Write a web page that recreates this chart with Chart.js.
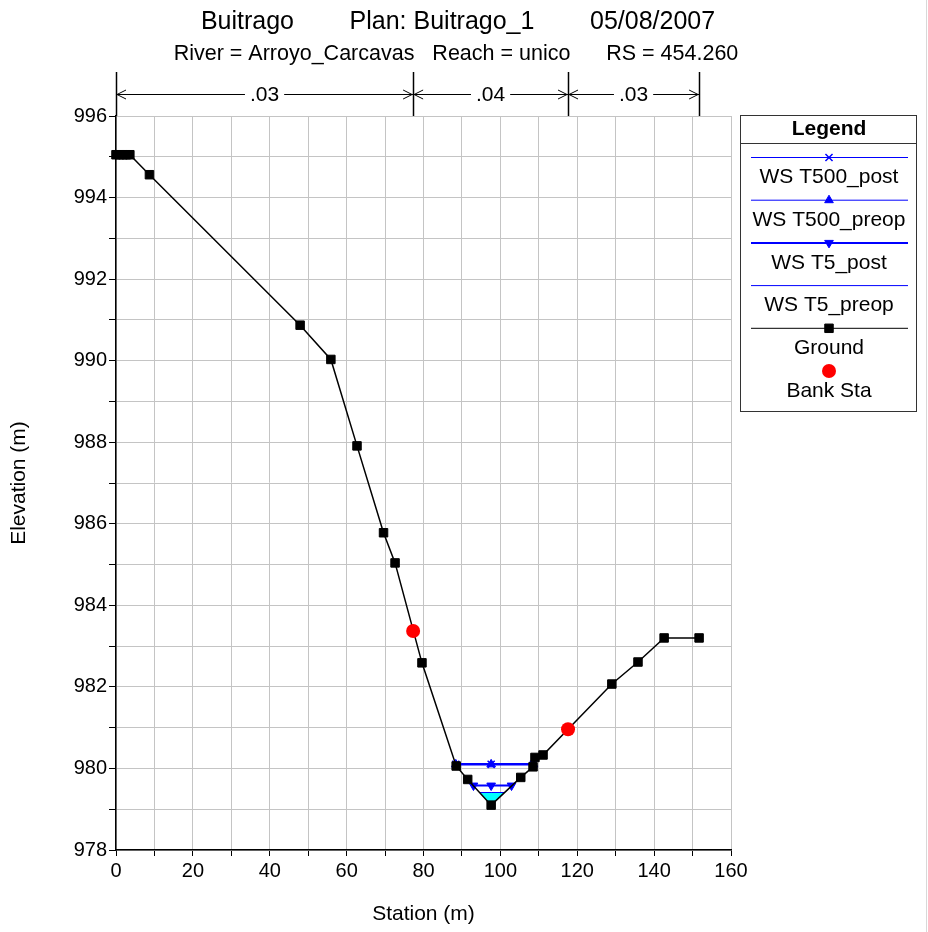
<!DOCTYPE html>
<html>
<head>
<meta charset="utf-8">
<script src="https://cdn.jsdelivr.net/npm/chart.js@4.4.1/dist/chart.umd.min.js"></script>
<style>
  html, body { margin: 0; padding: 0; background: #fff; }
</style>
</head>
<body>
<canvas id="chart" width="928" height="932"></canvas>
<script>
// ground profile (station m, elevation m)
const groundStation = [0, 0.9, 1.8, 2.7, 3.6, 8.7, 47.9, 55.9, 62.7, 69.6, 72.6, 79.6, 88.5, 91.5, 97.6, 105.3, 108.5, 109.0, 111.1, 129.0, 135.8, 142.6, 151.7];
const groundElev    = [995.05, 995.05, 995.05, 995.05, 995.05, 994.56, 990.87, 990.03, 987.91, 985.78, 985.04, 982.59, 980.06, 979.73, 979.10, 979.78, 980.04, 980.27, 980.33, 982.07, 982.61, 983.20, 983.20];

const bankStation = [77.3, 117.6];
const bankElev    = [983.37, 980.96];

// water surfaces
const wsT500Station = [88.4, 97.6, 108.6];
const wsT500PostElev  = [980.10, 980.10, 980.10];
const wsT500PreopElev = [980.10, 980.10, 980.10];
const wsT5PostStation = [93.0, 97.6, 102.9];
const wsT5PostElev    = [979.58, 979.58, 979.58];
const wsT5PreopStation = [94.5, 97.6, 101.1];
const wsT5PreopElev    = [979.41, 979.41, 979.41];
const wsT5PreopBedElev = [979.41, 979.10, 979.41];

// manning's n along the section
const nBreaks = [0, 77.3, 117.6, 151.7];
const nValues = ['.03', '.04', '.03'];

const titleText = 'Buitrago        Plan: Buitrago_1        05/08/2007';
const subtitleText = 'River = Arroyo_Carcavas   Reach = unico      RS = 454.260';

const legendOrder = ['WS T500_post', 'WS T500_preop', 'WS T5_post', 'WS T5_preop', 'Ground', 'Bank Sta'];

const FONT = "'Liberation Sans', Arial, sans-serif";
Chart.defaults.font.family = FONT;
Chart.defaults.color = '#000';

const pts = (xs, ys) => xs.map((x, i) => ({ x: x, y: ys[i] }));

const headerPlugin = {
  id: 'header',
  afterDraw(chart) {
    const ctx = chart.ctx;
    const xs = chart.scales.x;
    const top = chart.chartArea.top;
    ctx.save();
    ctx.fillStyle = '#000';
    ctx.textAlign = 'center';
    ctx.textBaseline = 'middle';
    ctx.font = '25px ' + FONT;
    ctx.fillText(titleText, 458, 22);
    ctx.font = '21.5px ' + FONT;
    ctx.fillText(subtitleText, 456, 54);

    // n value bars
    const yArr = 94;
    ctx.strokeStyle = '#000';
    ctx.lineWidth = 1.5;
    nBreaks.forEach(s => {
      const px = Math.round(xs.getPixelForValue(s)) + 0.5;
      ctx.beginPath();
      ctx.moveTo(px, 72);
      ctx.lineTo(px, top);
      ctx.stroke();
    });
    ctx.lineWidth = 1;
    ctx.font = '21px ' + FONT;
    nValues.forEach((v, i) => {
      const xl = xs.getPixelForValue(nBreaks[i]);
      const xr = xs.getPixelForValue(nBreaks[i + 1]);
      const mid = (xl + xr) / 2;
      const w = ctx.measureText(v).width;
      ctx.beginPath();
      ctx.moveTo(xl, yArr + 0.5);
      ctx.lineTo(mid - w / 2 - 5, yArr + 0.5);
      ctx.moveTo(mid + w / 2 + 5, yArr + 0.5);
      ctx.lineTo(xr, yArr + 0.5);
      // arrow heads
      ctx.moveTo(xl + 10, yArr - 4);
      ctx.lineTo(xl + 1, yArr + 0.5);
      ctx.lineTo(xl + 10, yArr + 5);
      ctx.moveTo(xr - 10, yArr - 4);
      ctx.lineTo(xr - 1, yArr + 0.5);
      ctx.lineTo(xr - 10, yArr + 5);
      ctx.stroke();
      ctx.fillText(v, mid, yArr + 1);
    });

    // legend box
    const bx = 740.5, by = 115.5, bw = 176, bh = 296;
    ctx.strokeStyle = '#333';
    ctx.lineWidth = 1;
    ctx.strokeRect(bx, by, bw, bh);
    ctx.beginPath();
    ctx.moveTo(bx, 143.5);
    ctx.lineTo(bx + bw, 143.5);
    ctx.stroke();
    ctx.font = 'bold 21px ' + FONT;
    ctx.fillText('Legend', 829, 129);

    ctx.font = '21px ' + FONT;
    legendOrder.forEach((label, i) => {
      const ds = chart.data.datasets.find(d => d.label === label);
      const ly = 157.5 + i * 42.7;
      if (ds.borderWidth > 0 && ds.showLine !== false) {
        ctx.strokeStyle = ds.borderColor;
        ctx.lineWidth = ds.legendLineWidth || ds.borderWidth;
        ctx.beginPath();
        ctx.moveTo(751, ly);
        ctx.lineTo(908, ly);
        ctx.stroke();
      }
      if (ds.pointRadius > 0) {
        ctx.fillStyle = ds.pointBackgroundColor;
        ctx.strokeStyle = ds.pointBorderColor;
        ctx.lineWidth = ds.pointBorderWidth;
        Chart.helpers.drawPoint(ctx, {
          pointStyle: ds.pointStyle,
          radius: ds.pointRadius,
          rotation: ds.pointRotation || 0,
          borderWidth: ds.pointBorderWidth
        }, 829, ly);
      }
      ctx.fillStyle = '#000';
      ctx.fillText(label, 829, ly + 20);
    });

    // window edge
    ctx.strokeStyle = '#d8d8d8';
    ctx.beginPath();
    ctx.moveTo(926.5, 0);
    ctx.lineTo(926.5, 932);
    ctx.stroke();
    ctx.restore();
  }
};

new Chart(document.getElementById('chart'), {
  type: 'line',
  data: {
    datasets: [
      {
        label: 'Bank Sta',
        data: pts(bankStation, bankElev),
        showLine: false,
        borderWidth: 0,
        pointStyle: 'circle',
        pointRadius: 7,
        pointBackgroundColor: '#ff0000',
        pointBorderColor: '#ff0000',
        pointBorderWidth: 0,
        clip: false
      },
      {
        label: 'Ground',
        data: pts(groundStation, groundElev),
        borderColor: '#000',
        borderWidth: 1.5,
        legendLineWidth: 1,
        pointStyle: 'rect',
        pointRadius: 6,
        pointBackgroundColor: '#000',
        pointBorderColor: '#000',
        pointBorderWidth: 1,
        clip: false
      },
      {
        label: 'WS T500_post',
        data: pts(wsT500Station, wsT500PostElev),
        borderColor: '#0000ff',
        borderWidth: 1.5,
        legendLineWidth: 1,
        pointStyle: 'crossRot',
        pointRadius: 5,
        pointBackgroundColor: '#0000ff',
        pointBorderColor: '#0000ff',
        pointBorderWidth: 1.5
      },
      {
        label: 'WS T500_preop',
        data: pts(wsT500Station, wsT500PreopElev),
        borderColor: '#0000ff',
        borderWidth: 2.5,
        legendLineWidth: 1,
        pointStyle: 'triangle',
        pointRadius: 5,
        pointBackgroundColor: '#0000ff',
        pointBorderColor: '#0000ff',
        pointBorderWidth: 1
      },
      {
        label: 'WS T5_post',
        data: pts(wsT5PostStation, wsT5PostElev),
        borderColor: '#0000ff',
        borderWidth: 2,
        pointStyle: 'triangle',
        pointRotation: 180,
        pointRadius: 5,
        pointBackgroundColor: '#0000ff',
        pointBorderColor: '#0000ff',
        pointBorderWidth: 1
      },
      {
        label: 'WS T5_preop',
        data: pts(wsT5PreopStation, wsT5PreopElev),
        borderColor: '#0000ff',
        borderWidth: 1,
        pointRadius: 0,
        backgroundColor: '#00ffff',
        fill: 6
      },
      {
        label: 'bed',
        data: pts(wsT5PreopStation, wsT5PreopBedElev),
        borderColor: 'rgba(0,0,0,0)',
        borderWidth: 0,
        pointRadius: 0
      }
    ]
  },
  options: {
    responsive: false,
    animation: false,
    devicePixelRatio: 1,
    layout: { padding: { top: 116, right: 197, left: 0, bottom: 0 } },
    plugins: {
      legend: { display: false },
      tooltip: { enabled: false },
      title: { display: false }
    },
    scales: {
      x: {
        type: 'linear',
        min: 0,
        max: 160,
        afterFit: s => { s.height = 82; },
        ticks: {
          stepSize: 10,
          autoSkip: false,
          maxRotation: 0,
          padding: 3,
          font: { size: 20 },
          callback: v => (v % 20 === 0 ? v : '')
        },
        grid: { color: '#c4c4c4', tickColor: '#000', tickLength: 6 },
        border: { color: '#000', width: 1.5 },
        title: { display: true, text: 'Station (m)', font: { size: 21 }, padding: { bottom: 5 } }
      },
      y: {
        type: 'linear',
        min: 978,
        max: 996,
        afterFit: s => { s.width = 116; },
        ticks: {
          stepSize: 1,
          autoSkip: false,
          padding: 2,
          font: { size: 20 },
          callback: v => (v % 2 === 0 ? v : '')
        },
        grid: { color: '#c4c4c4', tickColor: '#000', tickLength: 7 },
        border: { color: '#000', width: 1.5 },
        title: { display: true, text: 'Elevation (m)', font: { size: 21 }, padding: { top: 7 } }
      }
    }
  },
  plugins: [headerPlugin]
});
</script>
</body>
</html>
